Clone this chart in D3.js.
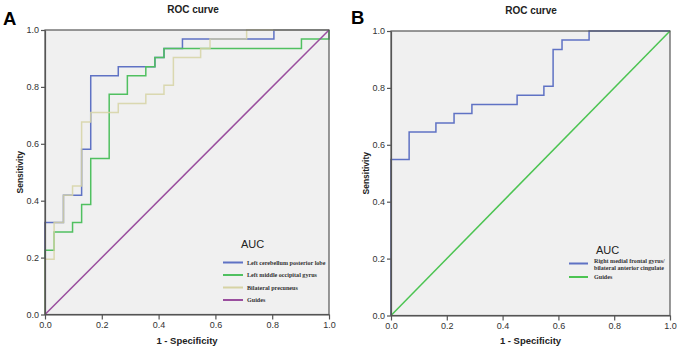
<!DOCTYPE html>
<html><head><meta charset="utf-8">
<script src="https://cdn.jsdelivr.net/npm/d3@7"></script>
<style>body{margin:0;background:#fff;}svg{display:block;}</style>
</head><body>
<svg id="chart" width="680" height="350"></svg>
<script>
// ---- data ----
const ticks = [0, 0.2, 0.4, 0.6, 0.8, 1.0];
const titles = ["ROC curve", "ROC curve"];
const panelLetters = ["A", "B"];
const xLabel = "1 - Specificity";
const yLabel = "Sensitivity";
const legendTitle = "AUC";

// Panel A
const namesA = ["Left cerebellum posterior lobe", "Left middle occipital gyrus", "Bilateral precuneus", "Guides"];
const cerebellumFpr = [0,0,.065,.065,.129,.129,.161,.161,.258,.258,.387,.387,.419,.419,.484,.484,.806,.806,1];
const cerebellumTpr = [0,.323,.323,.419,.419,.581,.581,.839,.839,.871,.871,.903,.903,.935,.935,.968,.968,1,1];
const occipitalFpr = [0,0,.032,.032,.097,.097,.129,.129,.161,.161,.226,.226,.290,.290,.355,.355,.387,.387,.419,.419,.903,.903,1,1];
const occipitalTpr = [0,.226,.226,.290,.290,.323,.323,.387,.387,.548,.548,.774,.774,.839,.839,.871,.871,.903,.903,.935,.935,.968,.968,1];
const precuneusFpr = [0,0,.032,.032,.065,.065,.097,.097,.129,.129,.161,.161,.258,.258,.355,.355,.419,.419,.452,.452,.548,.548,.581,.581,.710,.710,1];
const precuneusTpr = [0,.194,.194,.323,.323,.419,.419,.452,.452,.677,.677,.710,.710,.742,.742,.774,.774,.806,.806,.903,.903,.935,.935,.968,.968,1,1];
const guideFpr = [0,1];
const guideTpr = [0,1];

// Panel B
const namesB = [["Right medial frontal gyrus/", "bilateral anterior cingulate"], ["Guides"]];
const frontalFpr = [0,0,.065,.065,.161,.161,.226,.226,.290,.290,.452,.452,.548,.548,.581,.581,.613,.613,.710,.710,1];
const frontalTpr = [0,.548,.548,.645,.645,.677,.677,.710,.710,.742,.742,.774,.774,.806,.806,.935,.935,.968,.968,1,1];

// ---- drawing ----
const svg = d3.select("#chart");
const C = {blue:"#5f72c4", green:"#50c060", tan:"#d6d3a4", purple:"#9a4e9e", greenB:"#4cc452"};

function zip(xs, ys){ return xs.map((x,i)=>[x, ys[i]]); }

function panel(opt){
  const x = d3.scaleLinear().domain([0,1]).range([opt.x0, opt.x1]);
  const y = d3.scaleLinear().domain([0,1]).range([opt.y0, opt.y1]);
  const g = svg.append("g");
  g.append("rect").attr("x", opt.x0).attr("y", opt.y1).attr("width", opt.x1-opt.x0).attr("height", opt.y0-opt.y1)
    .attr("fill", "#f0f0f0");
  const line = d3.line().x(d=>x(d[0])).y(d=>y(d[1]));
  opt.series.forEach(s=>{
    g.append("path").attr("d", line(zip(s.fx, s.fy))).attr("fill","none")
      .attr("stroke", s.color).attr("stroke-width", 1.5).attr("stroke-opacity", s.op||1);
  });
  // frame
  g.append("rect").attr("x", opt.x0).attr("y", opt.y1).attr("width", opt.x1-opt.x0).attr("height", opt.y0-opt.y1)
    .attr("fill", "none").attr("stroke", "#555").attr("stroke-width", 1.2);
  const ax = g.append("g").attr("transform", `translate(0,${opt.y0})`)
    .call(d3.axisBottom(x).tickValues(ticks).tickFormat(d3.format(".1f")).tickSize(5).tickSizeOuter(0));
  const ay = g.append("g").attr("transform", `translate(${opt.x0},0)`)
    .call(d3.axisLeft(y).tickValues(ticks).tickFormat(d3.format(".1f")).tickSize(4).tickSizeOuter(0));
  [ax, ay].forEach(a=>{
    a.select(".domain").attr("stroke","#555").attr("stroke-width",1.2);
    a.selectAll(".tick line").attr("stroke","#555").attr("stroke-width",1.2);
    a.selectAll(".tick text").attr("fill","#333").style("font-family","Liberation Sans, Arial, sans-serif").style("font-size","9px");
  });
  ax.selectAll(".tick text").attr("dy","0.85em").attr("y", 6);
  ay.selectAll(".tick text").attr("x", -6);

  g.append("text").text(opt.title).attr("x", opt.tx).attr("y", opt.ty).attr("text-anchor","middle")
    .style("font-family","Liberation Sans, Arial, sans-serif").style("font-size","10px").style("font-weight","bold").attr("fill","#222");
  g.append("text").text(opt.letter).attr("x", opt.lx).attr("y", opt.ly)
    .style("font-family","Liberation Sans, Arial, sans-serif").style("font-size","18.5px").style("font-weight","bold").attr("fill","#000");
  g.append("text").text(xLabel).attr("x", (opt.x0+opt.x1)/2).attr("y", 344).attr("text-anchor","middle")
    .style("font-family","Liberation Sans, Arial, sans-serif").style("font-size","9.5px").style("font-weight","bold").attr("fill","#222");
  g.append("text").text(yLabel).attr("transform", `translate(${opt.x0-22},${(opt.y0+opt.y1)/2}) rotate(-90)`).attr("text-anchor","middle")
    .style("font-family","Liberation Sans, Arial, sans-serif").style("font-size","8.5px").style("font-weight","bold").attr("fill","#222");

  // legend
  const L = opt.legend;
  g.append("text").text(legendTitle).attr("x", L.ax).attr("y", L.ay)
    .style("font-family","Liberation Sans, Arial, sans-serif").style("font-size","11px").attr("fill","#222");
  L.items.forEach(it=>{
    g.append("line").attr("x1", L.lx0).attr("x2", L.lx1).attr("y1", it.y).attr("y2", it.y)
      .attr("stroke", it.color).attr("stroke-width", 2);
    it.lines.forEach((t,i)=>{
      g.append("text").text(t).attr("x", L.tx).attr("y", it.ty + i*7)
        .style("font-family","Liberation Serif, Times New Roman, serif").style("font-size","6.1px").style("font-weight","bold").attr("fill","#333");
    });
  });
}

panel({
  x0:45, x1:329, y0:314.5, y1:30, title:titles[0], tx:193, ty:13, letter:panelLetters[0], lx:3, ly:25,
  series:[
    {fx:cerebellumFpr, fy:cerebellumTpr, color:C.blue},
    {fx:occipitalFpr, fy:occipitalTpr, color:C.green},
    {fx:precuneusFpr, fy:precuneusTpr, color:C.tan, op:0.85},
    {fx:guideFpr, fy:guideTpr, color:C.purple}
  ],
  legend:{ax:241, ay:248, lx0:223, lx1:243, tx:247, items:[
    {y:262.5, ty:264.5, color:C.blue, lines:[namesA[0]]},
    {y:275, ty:277, color:C.green, lines:[namesA[1]]},
    {y:287.5, ty:289.5, color:C.tan, lines:[namesA[2]]},
    {y:300, ty:302, color:C.purple, lines:[namesA[3]]}
  ]}
});

panel({
  x0:391, x1:670, y0:315.5, y1:31, title:titles[1], tx:531, ty:14, letter:panelLetters[1], lx:351, ly:24,
  series:[
    {fx:frontalFpr, fy:frontalTpr, color:C.blue},
    {fx:guideFpr, fy:guideTpr, color:C.greenB}
  ],
  legend:{ax:596, ay:254, lx0:569, lx1:588, tx:594, items:[
    {y:263.5, ty:262.5, color:C.blue, lines:namesB[0]},
    {y:277, ty:279, color:C.greenB, lines:namesB[1]}
  ]}
});
</script>
</body></html>
